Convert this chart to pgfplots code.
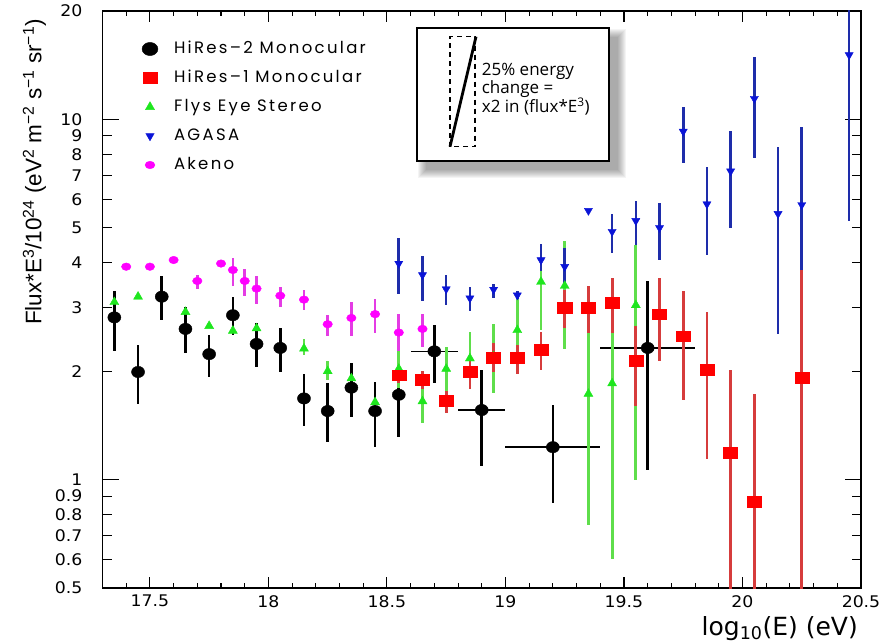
\documentclass[border=0pt]{standalone}
\usepackage{fontspec}
\usepackage{pgfplots}
\usepackage{pgfplotstable}
\pgfplotsset{compat=1.18}
\setmainfont{Liberation Sans}
\newfontfamily\pop[LetterSpace=14]{Poppins}
\newfontfamily\osans{Open Sans}
\newfontfamily\djv{DejaVu Sans}

\definecolor{hrred}{RGB}{255,0,0}
\definecolor{hrredbar}{RGB}{214,60,60}
\definecolor{fegreen}{RGB}{30,230,30}
\definecolor{fegreenbar}{RGB}{95,222,75}
\definecolor{agblue}{RGB}{10,20,215}
\definecolor{agbluebar}{RGB}{30,45,170}
\definecolor{akmag}{RGB}{255,0,255}
\definecolor{akmagbar}{RGB}{228,60,228}

% HiRes-2 monocular
\pgfplotstableread{
x y hi lo
17.35 2.82 3.33 2.27
17.45 1.99 2.36 1.62
17.55 3.22 3.67 2.77
17.65 2.62 3.02 2.25
17.75 2.23 2.52 1.93
17.85 2.86 3.22 2.52
17.95 2.38 2.72 2.05
18.05 2.32 2.64 1.99
18.15 1.68 1.96 1.41
18.25 1.55 1.85 1.27
18.35 1.80 2.11 1.49
18.45 1.55 1.87 1.23
18.55 1.72 2.11 1.31
18.70 2.27 2.68 1.86
18.90 1.56 2.02 1.09
19.20 1.23 1.61 0.86
19.60 2.32 3.56 1.06
}\hirestwo
\pgfplotstableread{
x y xe
18.70 2.27 0.1
18.90 1.56 0.1
19.20 1.23 0.2
19.60 2.32 0.2
}\hirestwox
% HiRes-1 monocular
\pgfplotstableread{
x y hi lo
18.55 1.95 2.06 1.85
18.65 1.89 2.00 1.78
18.75 1.66 1.76 1.53
18.85 1.99 2.14 1.78
18.95 2.18 2.39 1.99
19.05 2.18 2.36 1.96
19.15 2.29 2.57 2.02
19.25 3.00 3.36 2.63
19.35 3.00 3.45 2.55
19.45 3.10 3.64 2.56
19.55 2.14 2.67 1.60
19.65 2.88 3.62 2.13
19.75 2.50 3.34 1.66
19.85 2.02 2.92 1.14
19.95 1.19 2.01 0.30
20.05 0.87 1.73 0.30
20.25 1.92 3.82 0.30
}\hiresone
% Fly's Eye stereo
\pgfplotstableread{
x y hi lo
17.35 3.11 3.11 3.11
17.45 3.22 3.22 3.22
17.65 2.92 2.92 2.92
17.75 2.67 2.67 2.67
17.85 2.59 2.59 2.59
17.95 2.63 2.63 2.63
18.15 2.31 2.45 2.22
18.25 2.00 2.13 1.89
18.35 1.91 1.91 1.91
18.45 1.64 1.64 1.64
18.55 2.03 2.28 1.80
18.65 1.65 1.78 1.44
18.75 2.03 2.34 1.73
18.85 2.17 2.57 1.82
18.95 2.20 2.71 1.74
19.05 2.60 3.28 2.15
19.15 3.54 4.50 2.60
19.25 3.45 4.61 2.31
19.35 1.73 3.00 0.75
19.45 1.85 3.20 0.60
19.55 3.05 4.48 1.00
}\flyseye
% AGASA
\pgfplotstableread{
x y hi lo
18.55 3.98 4.68 3.27
18.65 3.70 4.17 3.14
18.75 3.38 3.70 3.05
18.85 3.19 3.42 2.94
18.95 3.37 3.49 3.19
19.05 3.25 3.33 3.17
19.15 4.07 4.50 3.80
19.25 3.90 4.40 3.50
19.35 5.58 5.58 5.58
19.45 4.88 5.45 4.25
19.55 5.23 5.93 4.48
19.65 5.00 5.86 4.06
19.75 9.26 10.86 7.58
19.85 5.82 7.36 4.21
19.95 7.18 9.29 4.98
20.05 11.42 14.90 7.80
20.15 5.47 8.36 2.53
20.25 5.79 9.51 3.82
20.45 15.10 30.00 5.23
}\agasa
% Akeno
\pgfplotstableread{
x y hi lo
17.40 3.90 3.90 3.90
17.50 3.90 3.90 3.90
17.60 4.07 4.07 4.07
17.70 3.56 3.70 3.39
17.80 3.98 3.98 3.98
17.85 3.82 4.11 3.45
17.90 3.56 3.84 3.23
17.95 3.39 3.67 3.08
18.05 3.24 3.43 3.02
18.15 3.16 3.36 2.96
18.25 2.70 2.86 2.50
18.35 2.81 3.12 2.50
18.45 2.88 3.18 2.56
18.55 2.56 2.89 2.28
18.65 2.62 2.89 2.33
}\akeno

\begin{document}
\begin{tikzpicture}[x=1pt,y=1pt]
\useasboundingbox (-102.5,-55) rectangle (780.5,588);
\begin{axis}[
  at={(0,0)}, anchor=south west,
  scale only axis, width=758.5pt, height=577pt,
  xmin=17.3, xmax=20.5,
  ymode=log, ymin=0.5, ymax=20,
  xtick={17.5,18,18.5,19,19.5,20,20.5},
  xticklabels={17.5,18,18.5,19,19.5,20,20.5},
  minor xtick={17.3,17.4,17.6,17.7,17.8,17.9,18.1,18.2,18.3,18.4,18.6,18.7,18.8,18.9,19.1,19.2,19.3,19.4,19.6,19.7,19.8,19.9,20.1,20.2,20.3,20.4},
  ytick={0.5,0.6,0.7,0.8,0.9,1,2,3,4,5,6,7,8,9,10,20},
  yticklabels={0.5,0.6,0.7,0.8,0.9,1,2,3,4,5,6,7,8,9,10,20},
  yminorticks=false,
  extra x ticks={17.5,18,18.5,19,19.5,20,20.5},
  extra x tick labels={},
  extra x tick style={major tick length=11pt},
  extra y ticks={1,10},
  extra y tick labels={},
  extra y tick style={major tick length=16pt},
  major tick length=9pt, minor tick length=5pt,
  tick style={black, line width=1.1pt},
  axis line style={line width=1.4pt},
  xticklabel style={font=\djv\fontsize{16}{16}\selectfont, inner sep=0pt, anchor=north, yshift=-7pt, xscale=1.08},
  yticklabel style={font=\djv\fontsize{16}{16}\selectfont, inner sep=0pt, anchor=east, xshift=-20pt, xscale=1.08},
  legend image code/.code={\draw[#1] plot coordinates {(0pt,0pt)}; \path[draw=none, fill=none] (-8pt,-4pt) rectangle (8pt,4pt);},
  legend cell align=left,
  legend style={at={(0.05208,0.9480)}, anchor=north west, draw=none, fill=none,
    inner sep=0pt, outer sep=0pt, row sep=13pt,
    font=\pop\fontsize{16.5}{16.5}\selectfont,
    nodes={inner sep=0pt, text height=12pt, text depth=4pt},
    /tikz/every odd column/.append style={column sep=16pt}},
  error bars/y dir=both, error bars/y explicit,
]
\addlegendimage{mark=*, black, mark size=6.6pt, mark options={xscale=1.2, fill=black, draw=black}}
\addlegendentry{HiRes–2 Monocular}
\addlegendimage{mark=square*, hrred, mark size=5.6pt, mark options={xscale=1.3, fill=hrred, draw=hrred}}
\addlegendentry{HiRes–1 Monocular}
\addlegendimage{mark=triangle*, fegreen, mark size=5.3pt, mark options={fill=fegreen, draw=fegreen}}
\addlegendentry{Flys Eye Stereo}
\addlegendimage{mark=triangle*, agblue, mark size=4.8pt, mark options={rotate=180, fill=agblue, draw=agblue}}
\addlegendentry{AGASA}
\addlegendimage{mark=*, akmag, mark size=3.8pt, mark options={xscale=1.3, fill=akmag, draw=akmag}}
\addlegendentry{Akeno}

% HiRes-2 horizontal bars
\addplot[forget plot, only marks, mark=none, error bars/y dir=none,
  error bars/x dir=both, error bars/x explicit,
  error bars/error mark=none,
  error bars/error bar style={line width=1.6pt, black}]
  table[x=x, y=y, x error=xe] {\hirestwox};
% HiRes-2
\addplot[forget plot, only marks, mark=*, black, mark size=5.7pt,
  mark options={xscale=1.15, fill=black, draw=black},
  error bars/error mark=none,
  error bars/error bar style={line width=2.6pt, black}]
  table[x=x, y=y, y error plus expr=\thisrow{hi}-\thisrow{y}, y error minus expr=\thisrow{y}-\thisrow{lo}] {\hirestwo};
% Fly's Eye
\addplot[forget plot, only marks, mark=triangle*, fegreen, mark size=5.2pt,
  mark options={fill=fegreen, draw=fegreen},
  error bars/error mark=none,
  error bars/error bar style={line width=2.8pt, fegreenbar}]
  table[x=x, y=y, y error plus expr=\thisrow{hi}-\thisrow{y}, y error minus expr=\thisrow{y}-\thisrow{lo}] {\flyseye};
% Akeno
\addplot[forget plot, only marks, mark=*, akmag, mark size=3.8pt,
  mark options={xscale=1.25, fill=akmag, draw=akmag},
  error bars/error mark=none,
  error bars/error bar style={line width=2.6pt, akmagbar}]
  table[x=x, y=y, y error plus expr=\thisrow{hi}-\thisrow{y}, y error minus expr=\thisrow{y}-\thisrow{lo}] {\akeno};
% HiRes-1
\addplot[forget plot, only marks, mark=square*, hrred, mark size=5.4pt,
  mark options={xscale=1.3, fill=hrred, draw=hrred},
  error bars/error mark=none,
  error bars/error bar style={line width=2.8pt, hrredbar}]
  table[x=x, y=y, y error plus expr=\thisrow{hi}-\thisrow{y}, y error minus expr=\thisrow{y}-\thisrow{lo}] {\hiresone};
% AGASA
\addplot[forget plot, only marks, mark=triangle*, agblue, mark size=4.7pt,
  mark options={rotate=180, fill=agblue, draw=agblue},
  error bars/error mark=none,
  error bars/error bar style={line width=2.6pt, agbluebar}]
  table[x=x, y=y, y error plus expr=\thisrow{hi}-\thisrow{y}, y error minus expr=\thisrow{y}-\thisrow{lo}] {\agasa};
\end{axis}

% inset box with shadow
\foreach \k in {0,1,...,8} {
  \fill[black, opacity=0.045] (314.5+9-\k, 427-9-\k) rectangle (506.5+9+\k, 560-9+\k);
}
\draw[line width=2pt, fill=white] (314.5,427) rectangle (506.5,560);
\draw[line width=1.3pt, dash pattern=on 5pt off 4pt] (347.5,441.3) rectangle (372.5,551.3);
\draw[line width=2.8pt] (347.5,441.3) -- (373.5,551.3);
\node[anchor=base west, inner sep=0pt, font=\osans\fontsize{17}{17}\selectfont] at (379.2,512) {25\% energy};
\node[anchor=base west, inner sep=0pt, font=\osans\fontsize{17}{17}\selectfont] at (379.2,494) {change =};
\node[anchor=base west, inner sep=0pt, font=\osans\fontsize{17}{17}\selectfont] at (379.2,475.3) {x2 in (flux*E\textsuperscript{3})};

% axis titles
\node[rotate=90, anchor=base, inner sep=0pt, font=\fontsize{22.5}{22.5}\selectfont] at (-61,416)
  {Flux*E\textsuperscript{3}/10\textsuperscript{24} (eV\textsuperscript{2} m\textsuperscript{−2} s\textsuperscript{−1} sr\textsuperscript{−1})};
\node[anchor=base east, inner sep=0pt, font=\djv\fontsize{25}{25}\selectfont] at (755.5,-47)
  {log\textsubscript{10}(E) (eV)};
\end{tikzpicture}
\end{document}
